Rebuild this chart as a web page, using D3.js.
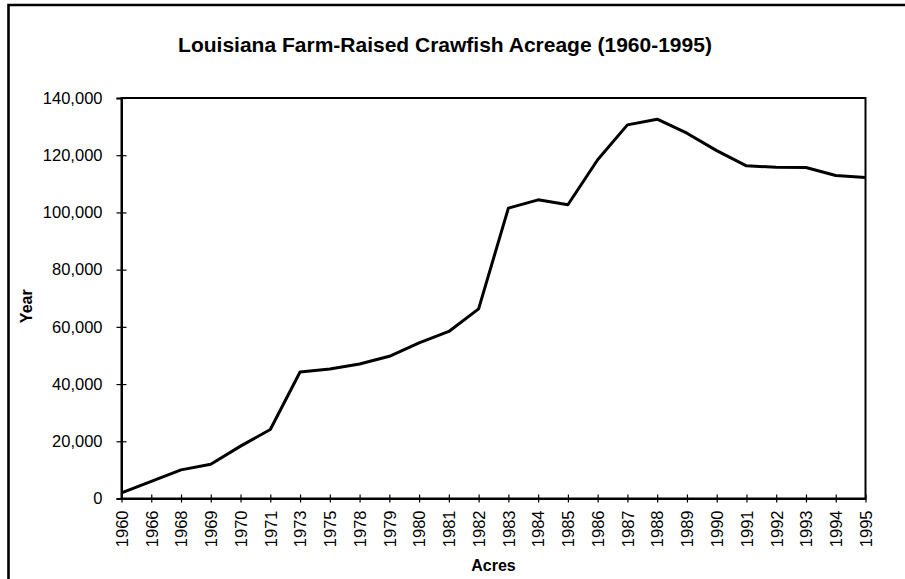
<!DOCTYPE html>
<html>
<head>
<meta charset="utf-8">
<script src="https://cdn.jsdelivr.net/npm/d3@7"></script>
<style>
  html, body { margin: 0; padding: 0; background: #fff; }
  svg { display: block; font-family: "Liberation Sans", Arial, sans-serif; }
</style>
</head>
<body>
<div id="chart"></div>
<script>
// categories (years, as printed on the axis) and acreage values
const years = ["1960","1966","1968","1969","1970","1971","1973","1975","1978","1979","1980","1981","1982",
               "1983","1984","1985","1986","1987","1988","1989","1990","1991","1992","1993","1994","1995"];
const acres = [2000, 6000, 10000, 12000, 18300, 24100, 44200, 45300, 47000, 49700, 54400, 58400, 66300,
               101500, 104400, 102700, 118400, 130600, 132600, 127700, 121600, 116300, 115800, 115700, 112900, 112200];
const yTicks = [0, 20000, 40000, 60000, 80000, 100000, 120000, 140000];

const width = 905, height = 579;
const margin = {top: 98, right: 39.5, bottom: 80, left: 121.5};

const svg = d3.select("#chart").append("svg")
  .attr("width", width).attr("height", height);

// outer frame (only left and top edges visible)
svg.append("path")
  .attr("d", `M8.5,${height} V5 H${width}`)
  .attr("fill", "none").attr("stroke", "#000").attr("stroke-width", 2.6);

const x = d3.scalePoint().domain(years).range([margin.left, width - margin.right]).padding(0);
const y = d3.scaleLinear().domain([0, 140000]).range([height - margin.bottom - 0.5, margin.top]);

// plot box
svg.append("rect")
  .attr("x", x.range()[0]).attr("y", y(140000))
  .attr("width", x.range()[1] - x.range()[0]).attr("height", y(0) - y(140000))
  .attr("fill", "none").attr("stroke", "#000").attr("stroke-width", 2);

// y axis
const gy = svg.append("g")
  .attr("transform", `translate(${x.range()[0]},0)`)
  .call(d3.axisLeft(y).tickValues(yTicks).tickFormat(d3.format(",")).tickSize(5).tickPadding(14));
gy.select(".domain").attr("stroke-width", 2);
gy.selectAll(".tick line").attr("x1", 5).attr("stroke-width", 1.2);
gy.selectAll(".tick text").attr("font-size", 16.5).attr("font-family", "Liberation Sans, Arial, sans-serif")
  .attr("fill", "#000");

// x axis
const gx = svg.append("g")
  .attr("transform", `translate(0,${y(0)})`)
  .call(d3.axisBottom(x).tickSize(4).tickSizeOuter(0));
gx.select(".domain").attr("stroke-width", 2);
gx.selectAll(".tick line").attr("y1", -4).attr("stroke-width", 1.2);
gx.selectAll(".tick text")
  .attr("font-size", 16.5).attr("font-family", "Liberation Sans, Arial, sans-serif").attr("fill", "#000")
  .attr("text-anchor", "end")
  .attr("transform", "rotate(-90)")
  .attr("x", -12).attr("y", 0).attr("dy", "0.35em");

// data line
const line = d3.line().x((d, i) => x(years[i])).y(d => y(d));
svg.append("path")
  .datum(acres)
  .attr("d", line)
  .attr("fill", "none").attr("stroke", "#000").attr("stroke-width", 3)
  .attr("stroke-linejoin", "round");

// title
svg.append("text")
  .attr("x", 445).attr("y", 52)
  .attr("text-anchor", "middle")
  .attr("font-size", 21).attr("font-weight", "bold")
  .text("Louisiana Farm-Raised Crawfish Acreage (1960-1995)");

// axis titles
svg.append("text")
  .attr("transform", `translate(32,${(y(0) + y(140000)) / 2 + 8}) rotate(-90)`)
  .attr("text-anchor", "middle")
  .attr("font-size", 16).attr("font-weight", "bold")
  .text("Year");

svg.append("text")
  .attr("x", (x.range()[0] + x.range()[1]) / 2).attr("y", 571)
  .attr("text-anchor", "middle")
  .attr("font-size", 16).attr("font-weight", "bold")
  .text("Acres");
</script>
</body>
</html>
